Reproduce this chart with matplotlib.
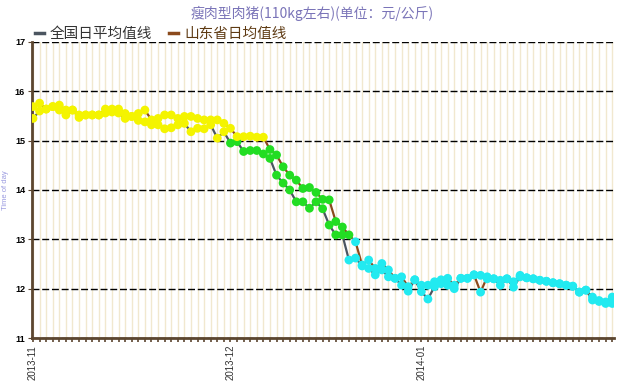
import matplotlib
matplotlib.use("Agg")
import matplotlib.pyplot as plt
from matplotlib.lines import Line2D
from matplotlib.ticker import FixedLocator, MultipleLocator

plt.rcParams['font.family'] = ['Noto Sans CJK SC', 'DejaVu Sans']

# daily prices (yuan/kg), one point per trading day from 2013-11 on
national = [
    15.45, 15.60, 15.64, 15.69, 15.62, 15.52, 15.62, 15.47, 15.52, 15.52,
    15.52, 15.56, 15.58, 15.56, 15.45, 15.49, 15.41, 15.38, 15.32, 15.32,
    15.24, 15.26, 15.32, 15.35, 15.18, 15.25, 15.24, 15.32, 15.05, 15.18,
    14.95, 14.98, 14.78, 14.80, 14.80, 14.73, 14.64, 14.30, 14.14, 14.00,
    13.76, 13.76, 13.63, 13.76, 13.62, 13.29, 13.09, 13.09, 12.58, 12.62,
    12.46, 12.41, 12.28, 12.38, 12.24, 12.21, 12.07, 11.95, 12.18, 11.94,
    11.79, 12.04, 12.10, 12.07, 12.00, 12.21, 12.21, 12.28, 12.27, 12.20,
    12.20, 12.07, 12.20, 12.03, 12.24, 12.22, 12.20, 12.17, 12.15, 12.12,
    12.10, 12.07, 12.05, 11.93, 11.97, 11.77, 11.74, 11.70, 11.70]
shandong = [
    15.69, 15.76, 15.64, 15.69, 15.72, 15.62, 15.62, 15.52, 15.52, 15.52,
    15.52, 15.64, 15.64, 15.64, 15.55, 15.49, 15.55, 15.62, 15.42, 15.45,
    15.52, 15.52, 15.45, 15.49, 15.49, 15.45, 15.42, 15.42, 15.42, 15.35,
    15.25, 15.08, 15.08, 15.09, 15.07, 15.07, 14.82, 14.71, 14.47, 14.30,
    14.20, 14.03, 14.05, 13.95, 13.81, 13.80, 13.36, 13.25, 13.09, 12.95,
    12.48, 12.58, 12.41, 12.51, 12.38, 12.21, 12.24, 12.04, 12.18, 12.07,
    12.07, 12.14, 12.18, 12.21, 12.07, 12.21, 12.21, 12.28, 11.93, 12.24,
    12.20, 12.17, 12.20, 12.14, 12.27, 12.22, 12.20, 12.17, 12.15, 12.12,
    12.10, 12.07, 12.05, 11.93, 11.97, 11.83, 11.76, 11.73, 11.83]
month_labels = ["2013-11", "2013-12", "2014-01"]
month_pos = [0, 30, 59]

BROWN = "#5c4630"


def point_color(v):
    if v >= 15:
        return "#f4f400"
    if v >= 13:
        return "#22dd22"
    return "#22eaf0"


fig = plt.figure(figsize=(6.25, 3.87), dpi=100)
ax = fig.add_axes([0.0512, 0.1266, 0.931, 0.765])

x = list(range(len(national)))
ax.plot(x, national, color="#4b5560", lw=1.6, zorder=3)
ax.plot(x, shandong, color="#8b4a1c", lw=1.6, zorder=3)
for ser in (national, shandong):
    ax.scatter(x, ser, s=40, c=[point_color(v) for v in ser],
               edgecolors="none", zorder=4)

ax.set_ylim(11, 17)
ax.set_xlim(-0.15, len(national) - 0.75)
ax.set_yticks(range(11, 18))
ax.xaxis.set_major_locator(FixedLocator(month_pos))
ax.set_xticklabels(month_labels, rotation=90, fontsize=7,
                   family=['Liberation Sans', 'DejaVu Sans'], color="#333333")
ax.xaxis.set_minor_locator(MultipleLocator(1))
ax.tick_params(axis='y', labelsize=6.5, length=3, color=BROWN, pad=2)
for lab in ax.get_yticklabels():
    lab.set_family(['Liberation Sans', 'DejaVu Sans'])
    lab.set_fontweight('bold')
ax.tick_params(axis='x', which='both', length=3, width=1.2, color=BROWN, pad=2)

ax.grid(axis='x', which='both', color="#f1e8cf", lw=1.0, zorder=0)
ax.grid(axis='y', color="black", lw=1.0, linestyle=(0, (5, 2)), zorder=1)
ax.set_axisbelow(True)

for side in ("top", "right"):
    ax.spines[side].set_visible(False)
ax.spines["left"].set_color(BROWN)
ax.spines["left"].set_linewidth(2)
ax.spines["bottom"].set_color(BROWN)
ax.spines["bottom"].set_linewidth(2)

ax.set_ylabel("Time of day", fontsize=5.5, color="#9a9ae0", labelpad=4,
              family=['Liberation Sans', 'DejaVu Sans'])

fig.text(0.5, 0.965, "瘦肉型肉猪(110kg左右)(单位：元/公斤)", ha="center",
         va="center", fontsize=10, color="#7a74b8")

handles = [Line2D([], [], color="#4b5560", lw=2.5),
           Line2D([], [], color="#8b4a1c", lw=2.5)]
leg = fig.legend(handles, ["全国日平均值线", "山东省日均值线"], loc="center left",
                 bbox_to_anchor=(0.035, 0.913), ncol=2, frameon=False,
                 fontsize=10.5, handlelength=0.6, handletextpad=0.4,
                 columnspacing=1.2)
leg.get_texts()[0].set_color("#333333")
leg.get_texts()[1].set_color("#5e3a12")

fig.savefig("out.png", dpi=100)
